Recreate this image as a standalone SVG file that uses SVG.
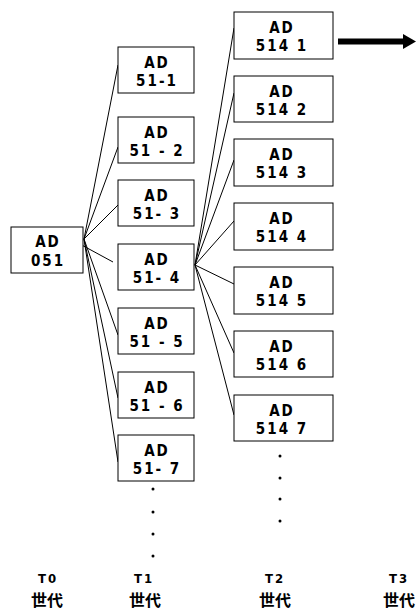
<svg xmlns="http://www.w3.org/2000/svg" width="416" height="611" viewBox="0 0 416 611">
<style>
.box{fill:#fff;stroke:#000;stroke-width:1}
.lbl{font-family:"DejaVu Sans Condensed","DejaVu Sans",sans-serif;font-weight:bold;font-size:15px;letter-spacing:2px;text-anchor:middle;fill:#000}
.gen{font-family:"DejaVu Sans Condensed","DejaVu Sans",sans-serif;font-weight:bold;font-size:13px;letter-spacing:2px;text-anchor:middle;fill:#000}
.cjk{font-family:"Noto Sans CJK JP","Noto Sans CJK SC",sans-serif;font-weight:bold;font-size:16px;text-anchor:middle;fill:#000}
.ln{stroke:#000;stroke-width:1;fill:none}
.dot{fill:#000}
</style>
<rect width="416" height="611" fill="#fff"/>
<g id="connectors">
<line class="ln" x1="84" y1="239" x2="118" y2="65"/>
<line class="ln" x1="84" y1="239" x2="118" y2="147"/>
<line class="ln" x1="84" y1="239" x2="118" y2="205"/>
<line class="ln" x1="78" y1="243" x2="113" y2="262"/>
<line class="ln" x1="84" y1="239" x2="118" y2="335"/>
<line class="ln" x1="84" y1="239" x2="118" y2="398"/>
<line class="ln" x1="84" y1="239" x2="118" y2="462"/>
<line class="ln" x1="195" y1="265" x2="234" y2="28"/>
<line class="ln" x1="195" y1="265" x2="234" y2="93"/>
<line class="ln" x1="195" y1="265" x2="234" y2="160"/>
<line class="ln" x1="195" y1="265" x2="234" y2="221"/>
<line class="ln" x1="195" y1="265" x2="234" y2="284"/>
<line class="ln" x1="195" y1="265" x2="234" y2="353"/>
<line class="ln" x1="195" y1="265" x2="234" y2="415"/>
<line x1="338" y1="41.5" x2="405" y2="41.5" stroke="#000" stroke-width="6"/>
<polygon points="403,34 416,41.5 403,49" fill="#000"/>
</g>
<g id="n0"><rect class="box" x="11" y="227" width="72" height="46"/><text class="lbl" x="48" y="247">AD</text><text class="lbl" x="48" y="266">051</text></g>
<g id="n1-1"><rect class="box" x="118" y="47" width="76" height="46"/><text class="lbl" x="157" y="68">AD</text><text class="lbl" x="157" y="86">51-1</text></g>
<g id="n1-2"><rect class="box" x="118" y="117" width="76" height="46"/><text class="lbl" x="157" y="138">AD</text><text class="lbl" x="157" y="156">51 - 2</text></g>
<g id="n1-3"><rect class="box" x="118" y="180" width="76" height="46"/><text class="lbl" x="157" y="201">AD</text><text class="lbl" x="157" y="219">51- 3</text></g>
<g id="n1-4"><rect class="box" x="118" y="244" width="76" height="46"/><text class="lbl" x="157" y="265">AD</text><text class="lbl" x="157" y="283">51- 4</text></g>
<g id="n1-5"><rect class="box" x="118" y="308" width="76" height="46"/><text class="lbl" x="157" y="329">AD</text><text class="lbl" x="157" y="347">51 - 5</text></g>
<g id="n1-6"><rect class="box" x="118" y="372" width="76" height="46"/><text class="lbl" x="157" y="393">AD</text><text class="lbl" x="157" y="411">51 - 6</text></g>
<g id="n1-7"><rect class="box" x="118" y="435" width="76" height="46"/><text class="lbl" x="157" y="456">AD</text><text class="lbl" x="157" y="474">51- 7</text></g>
<g id="n2-1"><rect class="box" x="234" y="12" width="99" height="47"/><text class="lbl" x="282" y="33">AD</text><text class="lbl" x="282" y="51">514 1</text></g>
<g id="n2-2"><rect class="box" x="234" y="76" width="99" height="46"/><text class="lbl" x="282" y="97">AD</text><text class="lbl" x="282" y="115">514 2</text></g>
<g id="n2-3"><rect class="box" x="234" y="139" width="99" height="47"/><text class="lbl" x="282" y="160">AD</text><text class="lbl" x="282" y="178">514 3</text></g>
<g id="n2-4"><rect class="box" x="234" y="203" width="99" height="47"/><text class="lbl" x="282" y="224">AD</text><text class="lbl" x="282" y="242">514 4</text></g>
<g id="n2-5"><rect class="box" x="234" y="267" width="99" height="47"/><text class="lbl" x="282" y="288">AD</text><text class="lbl" x="282" y="306">514 5</text></g>
<g id="n2-6"><rect class="box" x="234" y="331" width="99" height="46"/><text class="lbl" x="282" y="352">AD</text><text class="lbl" x="282" y="370">514 6</text></g>
<g id="n2-7"><rect class="box" x="234" y="395" width="99" height="46"/><text class="lbl" x="282" y="416">AD</text><text class="lbl" x="282" y="434">514 7</text></g>
<g id="dots">
<circle class="dot" cx="153" cy="489" r="1.5"/><circle class="dot" cx="153" cy="512" r="1.5"/><circle class="dot" cx="153" cy="534" r="1.5"/><circle class="dot" cx="153" cy="556" r="1.5"/>
<circle class="dot" cx="280" cy="456" r="1.5"/><circle class="dot" cx="280" cy="478" r="1.5"/><circle class="dot" cx="280" cy="499" r="1.5"/><circle class="dot" cx="280" cy="521" r="1.5"/>
</g>
<g id="generations">
<text class="gen" x="48" y="583">T0</text><text class="cjk" x="47" y="606">世代</text>
<text class="gen" x="144" y="583">T1</text><text class="cjk" x="145" y="606">世代</text>
<text class="gen" x="275" y="583">T2</text><text class="cjk" x="275" y="606">世代</text>
<text class="gen" x="399" y="583">T3</text><text class="cjk" x="399" y="606">世代</text>
</g>
</svg>
